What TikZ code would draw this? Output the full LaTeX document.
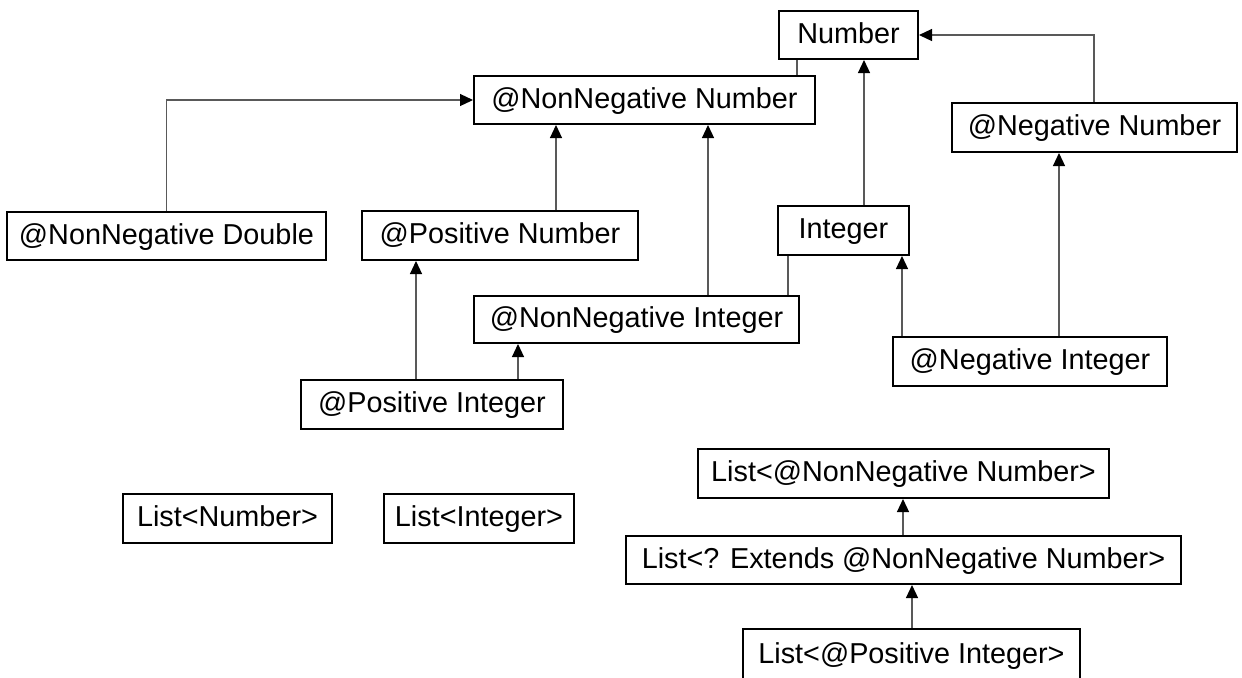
\documentclass[tikz,border=0pt]{standalone}
\usepackage{fontspec}
\setmainfont{Liberation Sans}
\usetikzlibrary{arrows.meta}
\tikzset{
  box/.style={draw=black, line width=1pt, inner sep=0pt, fill=white,
    text height=0.8em, text depth=0pt,
    font=\fontsize{14.4}{17}\selectfont},
  arr/.style={draw=black!65, line width=0.6pt, -{Triangle[length=6.5pt,width=6pt,color=black,fill=black]}},
  ln/.style={draw=black!65, line width=0.6pt}
}
\newcommand\ubox[6]{\node[box, minimum width={(#4-#2)*0.5pt}, minimum height={(#5-#3)*0.5pt}] (#1) at ({(#2+#4)/2},{(#3+#5)/2}) {#6};}
\begin{document}
\begin{tikzpicture}[x=0.5pt,y=-0.5pt]
\useasboundingbox (0,0) rectangle (1242,677);
\clip (0,0) rectangle (1242,677);
\ubox{num}{779}{11}{918}{59}{Number}
\ubox{nnn}{474}{76}{815}{124}{@NonNegative Number}
\ubox{negn}{952}{103}{1237}{152}{@Negative Number}
\ubox{nnd}{7}{212}{326}{260}{@NonNegative Double}
\ubox{posn}{362}{211}{638}{260}{@Positive Number}
\ubox{int}{778}{206}{909}{255}{Integer}
\ubox{nni}{474}{296}{799}{343}{@NonNegative Integer}
\ubox{negi}{893}{337}{1167}{386}{@Negative Integer}
\ubox{posi}{301}{380}{563}{429}{@Positive Integer}
\ubox{lnum}{123}{494}{332}{543}{List<Number>}
\ubox{lint}{384}{494}{574}{543}{List<Integer>}
\ubox{lnn}{698}{449}{1109}{498}{List<@NonNegative Number>}
\ubox{lext}{626}{536}{1181}{584}{List<? Extends @NonNegative Number>}
\ubox{lpi}{743}{629}{1080}{681}{List<@Positive Integer>}

\draw[arr] (nnd.north) |- (nnn.west);
\draw[arr] (posn.north -| 556,0) -- (nnn.south -| 556,0);
\draw[arr] (nni.north -| 708,0) -- (nnn.south -| 708,0);
\draw[ln] (nnn.north -| 797,0) -- (num.south -| 797,0);
\draw[arr] (int.north -| 864,0) -- (num.south -| 864,0);
\draw[ln] (int.south -| 788,0) -- (nni.north -| 788,0);
\draw[arr] (negi.north -| 902,0) -- (int.south -| 902,0);
\draw[arr] (negi.north -| 1059,0) -- (negn.south -| 1059,0);
\draw[arr] (negn.north -| 1094,0) |- (num.east);
\draw[arr] (posi.north -| 416,0) -- (posn.south -| 416,0);
\draw[arr] (posi.north -| 518,0) -- (nni.south -| 518,0);
\draw[arr] (lext.north -| 903,0) -- (lnn.south -| 903,0);
\draw[arr] (lpi.north -| 912,0) -- (lext.south -| 912,0);
\end{tikzpicture}
\end{document}
